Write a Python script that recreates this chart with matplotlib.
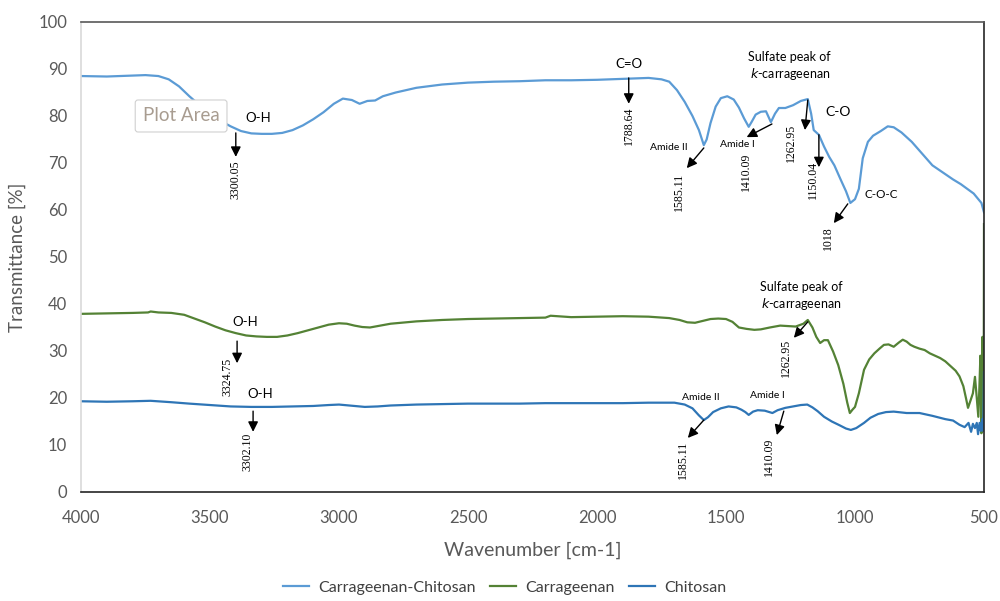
import matplotlib.pyplot as plt

plt.rcParams['font.family'] = ['Lato', 'DejaVu Sans']

# Carrageenan-Chitosan spectrum
cc_wn = [4000, 3900, 3800, 3750, 3700, 3660, 3620, 3580, 3540, 3500, 3460, 3420,
         3380, 3340, 3300, 3260, 3220, 3180, 3140, 3100, 3060, 3020, 2985, 2950,
         2920, 2890, 2860, 2830, 2780, 2700, 2600, 2500, 2400, 2300, 2200, 2100,
         2000, 1900, 1800, 1750, 1720, 1690, 1660, 1630, 1605, 1586, 1575, 1560,
         1540, 1520, 1495, 1470, 1450, 1430, 1412, 1400, 1385, 1365, 1345, 1326,
         1310, 1295, 1270, 1240, 1210, 1183, 1170, 1160, 1150, 1140, 1120, 1100,
         1080, 1055, 1035, 1018, 1000, 985, 970, 950, 930, 900, 873, 850, 820,
         780, 740, 700, 660, 620, 590, 560, 540, 525, 510, 500]
cc_t = [88.5, 88.4, 88.6, 88.7, 88.5, 87.8, 86.3, 84.2, 82.3, 80.6, 79.0, 77.8,
        76.8, 76.3, 76.2, 76.2, 76.4, 77.0, 78.0, 79.3, 80.8, 82.6, 83.7, 83.4,
        82.6, 83.2, 83.3, 84.2, 85.0, 86.0, 86.7, 87.1, 87.3, 87.4, 87.6, 87.6,
        87.7, 87.9, 88.1, 87.8, 87.3, 85.5, 83.0, 80.0, 77.0, 73.8, 75.0, 78.5,
        82.0, 83.8, 84.2, 83.5, 81.8, 79.5, 77.7, 78.8, 80.3, 80.9, 81.0, 78.7,
        80.5, 81.7, 81.7, 82.3, 83.2, 83.6, 80.5, 77.0, 76.5, 76.0, 73.5, 71.3,
        69.5, 66.4, 64.0, 61.5, 62.3, 64.5, 71.0, 74.5, 75.8, 76.8, 77.8, 77.6,
        76.5, 74.5, 72.0, 69.5, 68.0, 66.5, 65.5, 64.3, 63.5, 62.5, 61.5, 59.5]

# Carrageenan spectrum
car_wn = [4000, 3900, 3800, 3740, 3730, 3700, 3650, 3600, 3560, 3520, 3480, 3440,
          3400, 3360, 3320, 3280, 3240, 3200, 3160, 3120, 3080, 3040, 3000, 2970,
          2940, 2910, 2880, 2850, 2800, 2700, 2600, 2500, 2400, 2300, 2200, 2180,
          2100, 2000, 1900, 1800, 1720, 1680, 1650, 1620, 1590, 1560, 1530, 1500,
          1475, 1450, 1420, 1390, 1365, 1330, 1290, 1260, 1230, 1200, 1183, 1165,
          1150, 1135, 1120, 1105, 1085, 1065, 1045, 1030, 1020, 1010, 1000, 985,
          965, 945, 925, 905, 888, 870, 850, 830, 815, 800, 785, 770, 750, 730,
          710, 690, 670, 650, 630, 610, 595, 580, 570, 562, 552, 543, 535, 528,
          522, 518, 514, 510, 506, 503, 501, 500]
car_t = [37.9, 38.0, 38.1, 38.2, 38.4, 38.2, 38.1, 37.7, 36.9, 36.1, 35.2, 34.4,
         33.8, 33.3, 33.1, 33.0, 33.0, 33.3, 33.8, 34.4, 35.0, 35.6, 35.9, 35.8,
         35.4, 35.1, 35.0, 35.3, 35.8, 36.3, 36.6, 36.8, 36.9, 37.0, 37.1, 37.5,
         37.2, 37.3, 37.4, 37.3, 37.0, 36.6, 36.1, 36.0, 36.4, 36.8, 36.9, 36.8,
         36.2, 35.0, 34.7, 34.5, 34.6, 35.0, 35.4, 35.3, 35.2, 35.8, 36.6, 35.0,
         33.0, 31.7, 32.3, 32.3, 29.9, 27.0, 23.0, 19.0, 16.8, 17.5, 18.1, 21.0,
         26.0, 28.2, 29.5, 30.5, 31.3, 31.4, 30.9, 31.8, 32.4, 32.0, 31.3, 30.9,
         30.5, 30.2, 29.5, 29.0, 28.5, 27.8, 26.8, 25.8, 24.6, 22.5, 20.0, 17.9,
         19.5, 21.0, 24.5, 20.0, 16.0, 22.0, 29.0, 12.5, 33.0, 14.0, 25.0, 57.0]

# Chitosan spectrum
chi_wn = [4000, 3900, 3800, 3730, 3650, 3580, 3500, 3420, 3340, 3260, 3180, 3100,
          3040, 3000, 2960, 2900, 2850, 2800, 2700, 2600, 2500, 2400, 2300, 2200,
          2100, 2000, 1900, 1800, 1700, 1660, 1630, 1605, 1586, 1570, 1550, 1520,
          1490, 1460, 1440, 1425, 1412, 1395, 1377, 1350, 1320, 1300, 1270, 1240,
          1210, 1185, 1165, 1145, 1120, 1090, 1060, 1035, 1016, 995, 965, 940,
          910, 880, 850, 800, 750, 700, 650, 620, 595, 575, 560, 550, 543, 535,
          528, 523, 517, 512, 507, 503, 501, 500]
chi_t = [19.3, 19.2, 19.3, 19.4, 19.1, 18.8, 18.5, 18.2, 18.1, 18.1, 18.2, 18.3,
         18.5, 18.6, 18.4, 18.1, 18.2, 18.4, 18.6, 18.7, 18.8, 18.8, 18.8, 18.9,
         18.9, 18.9, 18.9, 19.0, 19.0, 18.6, 17.8, 16.3, 15.3, 15.9, 17.0, 17.8,
         18.2, 18.0, 17.5, 17.0, 16.4, 17.1, 17.4, 17.3, 16.8, 17.4, 17.9, 18.2,
         18.5, 18.6, 18.0, 17.2, 16.0, 15.0, 14.2, 13.5, 13.2, 13.6, 14.7, 15.8,
         16.6, 17.0, 17.1, 16.8, 16.8, 16.2, 15.5, 15.2, 14.3, 13.8, 14.7, 12.8,
         14.5, 13.6, 14.7, 12.3, 14.7, 13.0, 15.5, 13.0, 20.0, 25.5]

series_names = ['Carrageenan-Chitosan', 'Carrageenan', 'Chitosan']
series_colors = ['#5B9BD5', '#548235', '#2E75B6']

# group labels: (text, x, y, fontsize)
group_labels = [
    ('O-H', 3314, 79.5, 9.5),
    ('C=O', 1877, 91.0, 9.5),
    ('Sulfate peak of\n$\\it{k}$-carrageenan', 1253, 90.5, 9),
    ('C-O', 1067, 80.9, 10),
    ('Amide II', 1722, 73.4, 7.5),
    ('Amide I', 1454, 74.0, 7.5),
    ('C-O-C', 899, 63.4, 8.5),
    ('O-H', 3364, 36.2, 9.5),
    ('Sulfate peak of\n$\\it{k}$-carrageenan', 1210, 41.6, 9),
    ('O-H', 3305, 20.9, 9.5),
    ('Amide II', 1598, 20.2, 7.5),
    ('Amide I', 1338, 20.6, 7.5),
]

# peak arrows: (peak label, arrow start x, y, arrow end x, y, label x, y)
peaks = [
    ('3300.05', 3400, 76.4, 3400, 71.3, 3400, 66.4),
    ('1788.64', 1877, 88.1, 1877, 82.6, 1877, 78.0),
    ('1262.95', 1183, 83.4, 1194, 77.0, 1249, 74.3),
    ('1150.04', 1140, 76.0, 1140, 69.1, 1163, 66.4),
    ('1585.11', 1586, 73.2, 1652, 68.9, 1683, 63.8),
    ('1410.09', 1322, 78.3, 1420, 75.5, 1423, 68.1),
    ('1018', 1028, 61.3, 1082, 57.2, 1105, 54.0),
    ('3324.75', 3395, 32.1, 3395, 27.4, 3434, 24.5),
    ('1262.95', 1183, 36.2, 1237, 32.8, 1268, 28.5),
    ('3302.10', 3333, 17.2, 3333, 12.8, 3356, 8.5),
    ('1585.11', 1586, 15.3, 1648, 11.5, 1668, 6.8),
    ('1410.09', 1276, 17.2, 1303, 12.1, 1334, 7.4),
]

fig = plt.figure(figsize=(10, 6.01), dpi=100)
ax = fig.add_axes([0.081, 0.1814, 0.903, 0.782])

for wn, t, name, col in zip([cc_wn, car_wn, chi_wn], [cc_t, car_t, chi_t],
                            series_names, series_colors):
    ax.plot(wn, t, color=col, lw=1.6, label=name)

for txt, x, y, fs in group_labels:
    ax.text(x, y, txt, ha='center', va='center', fontsize=fs, color='black',
            linespacing=1.3)

for txt, x0, y0, x1, y1, lx, ly in peaks:
    ax.annotate('', xy=(x1, y1), xytext=(x0, y0),
                arrowprops=dict(arrowstyle='-|>,head_length=0.6,head_width=0.3',
                                color='black', lw=1.0, shrinkA=0, shrinkB=0))
    ax.text(lx, ly, txt, rotation=90, ha='center', va='center', fontsize=8.5,
            family='Liberation Serif', color='black')

# Excel hover tooltip left in the screenshot
ax.text(3612, 80, 'Plot Area', ha='center', va='center', fontsize=13.5,
        color='#a89c90', zorder=5,
        bbox=dict(boxstyle='round,pad=0.4,rounding_size=0.15', fc='white',
                  ec='#d0d0d0', lw=0.8))

ax.set_xlim(4000, 500)
ax.set_ylim(0, 100)
ax.set_xticks(range(4000, 499, -500))
ax.set_yticks(range(0, 101, 10))
ax.tick_params(length=0, labelsize=12, labelcolor='#595959')
ax.tick_params(axis='x', pad=13)
ax.tick_params(axis='y', pad=10)
ax.set_xlabel('Wavenumber [cm-1]', fontsize=14, color='#595959', labelpad=11)
ax.set_ylabel('Transmittance [%]', fontsize=13.5, color='#595959', labelpad=9)

ax.spines['left'].set_color('#d9d9d9')
ax.spines['top'].set_color('#595959')
ax.spines['right'].set_color('#262626')
ax.spines['bottom'].set_color('#262626')
for s in ax.spines.values():
    s.set_linewidth(1.2)

fig.legend(loc='lower center', bbox_to_anchor=(0.505, -0.014), ncol=3,
           frameon=False, fontsize=11.5, handlelength=1.6, handletextpad=0.6,
           columnspacing=0.9, labelcolor='#404040')

fig.savefig('out.png', dpi=100)
